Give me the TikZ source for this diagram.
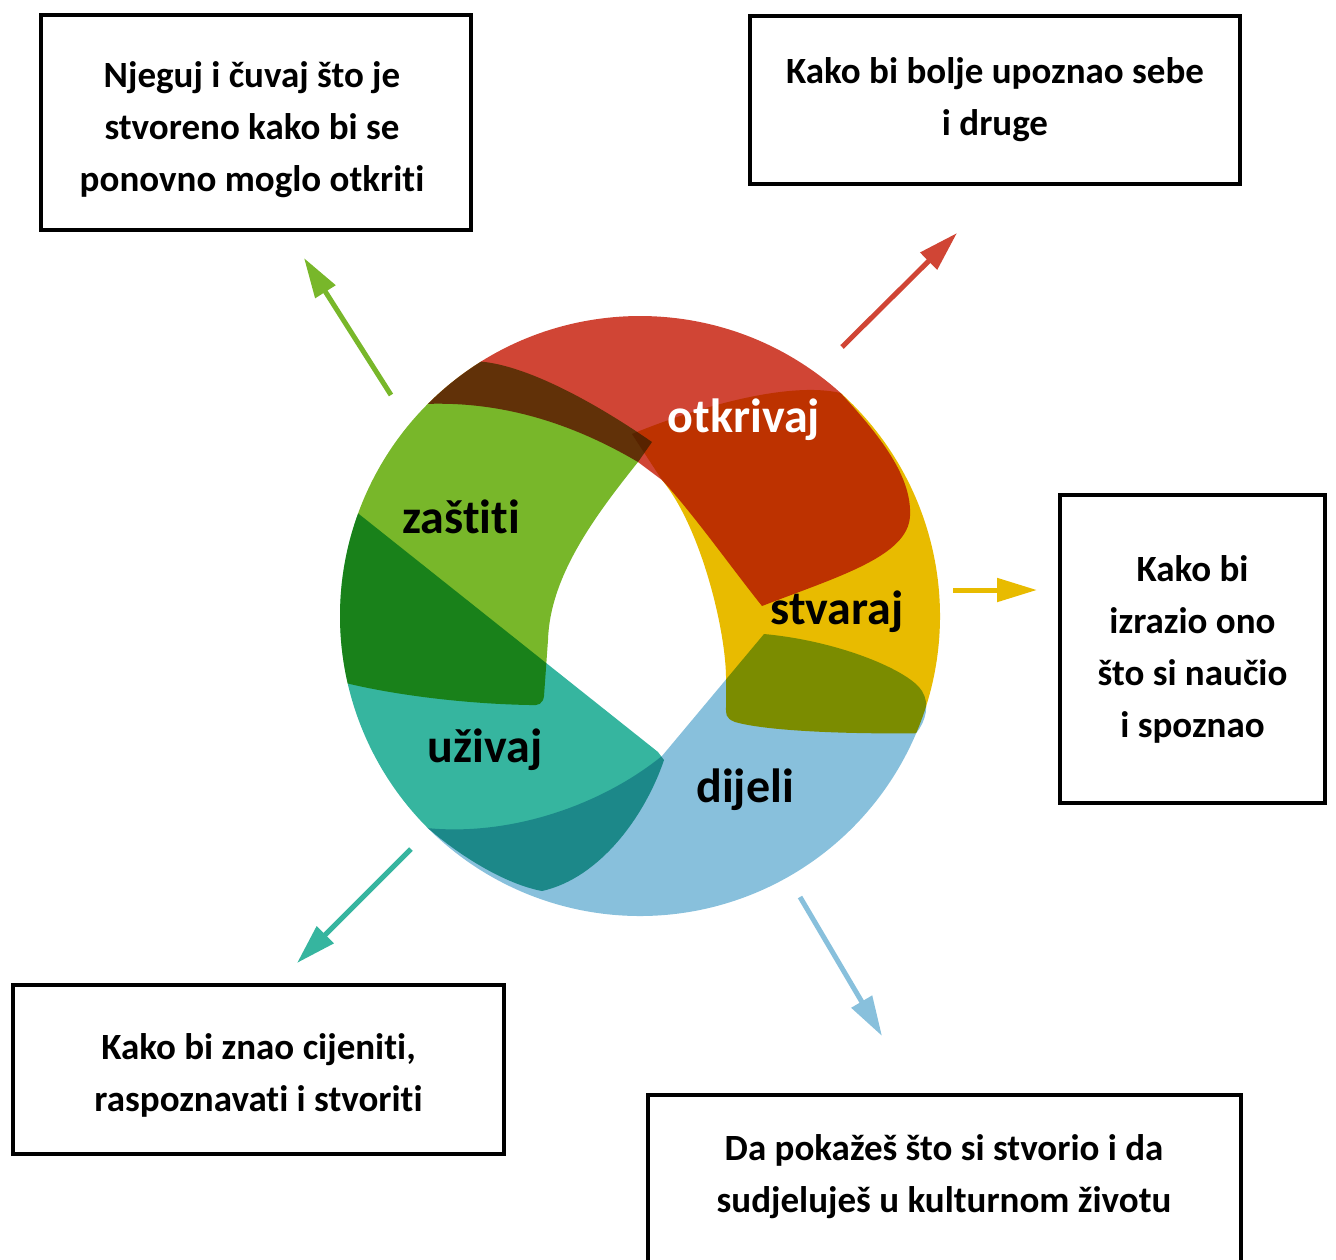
\documentclass[tikz,border=0pt]{standalone}
\usepackage{fontspec}
\setmainfont{Carlito}[Ligatures=NoCommon]
\usepackage{tikz}
\usetikzlibrary{arrows.meta}
\definecolor{otkred}{RGB}{208,69,53}
\definecolor{zasgreen}{RGB}{120,183,42}
\definecolor{uzteal}{RGB}{54,181,159}
\definecolor{dijblue}{RGB}{136,192,220}
\definecolor{stvyellow}{RGB}{232,187,0}
\tikzset{
   goal box/.style={draw, line width=2pt, inner sep=0pt},
   goal text/.style={inner sep=0pt, align=center,
      font=\bfseries\fontsize{18.5}{26}\selectfont},
   band/.style={fill=#1, blend mode=multiply},
   band label/.style={inner sep=0pt, font=\bfseries\fontsize{24}{24}\selectfont},
   leaf arrow/.style={draw=#1, line width=2.5pt, -{Triangle[length=20pt,width=11.5pt]}}
}
% the five bands, relative to the centre of the ring (y points down)
\newcommand{\redband}{(225:300) arc[start angle=225,end angle=312,radius=300]
   .. controls (240,-180) and (272,-140) .. (270,-100)
   .. controls (268,-60) and (200,-40) .. (122,-10)
   .. controls (90,-50) and (55,-100) .. (22,-136) -- (-2,-154)
   .. controls (-80,-200) and (-150,-214) .. cycle}
\newcommand{\greenband}{(167:300) arc[start angle=167,end angle=238,radius=300]
   .. controls (-110,-250) and (-40,-210) .. (12,-174) -- (-2,-154)
   .. controls (-45,-100) and (-90,-40) .. (-92,24) -- (-96,80)
   .. controls (-97,88) and (-102,90) .. (-110,89)
   .. controls (-170,88) and (-240,80) .. cycle}
\newcommand{\tealband}{(135:300) arc[start angle=135,end angle=200,radius=300]
   -- (18,136) -- (24,144)
   .. controls (5,200) and (-40,262) .. (-98,275)
   .. controls (-135,268) and (-180,240) .. cycle}
\newcommand{\blueband}{(23:300) arc[start angle=23,end angle=135,radius=300]
   .. controls (-130,220) and (-40,190) .. (22,140) -- (124,18)
   .. controls (200,25) and (270,55) .. (282,75)
   .. controls (290,88) and (286,105) .. cycle}
\newcommand{\yellowband}{(312:300) arc[start angle=312,end angle=383,radius=300]
   .. controls (220,118) and (130,116) .. (95,106)
   .. controls (85,102) and (86,98) .. (86,90) -- (86,60)
   .. controls (85,10) and (60,-90) .. (22,-136) -- (-8,-182)
   .. controls (60,-210) and (150,-235) .. cycle}

\begin{document}
\begin{tikzpicture}[x=0.5pt, y=-0.5pt]
  \useasboundingbox (0,0) rectangle (1336,1259);
  \begin{scope}[shift={(640,616)}]
    \fill[band=otkred] \redband;
    \fill[band=zasgreen] \greenband;
    \fill[band=uzteal] \tealband;
    \fill[band=dijblue] \blueband;
    \fill[band=stvyellow] \yellowband;
    \node[band label, white] (discover) at (104,-196) {otkrivaj};
    \node[band label] (protect) at (-179,-99) {zaštiti};
    \node[band label] (create) at (197,-4) {stvaraj};
    \node[band label] (enjoy) at (-155,134) {uživaj};
    \node[band label] (share) at (105,174) {dijeli};
  \end{scope}
  \node[goal box, minimum width=215pt, minimum height=107.5pt] (keep) at (256,122.5) {};
  \node[goal text, xshift=-2pt, yshift=-3.5pt] (keep text) at (keep)
    {Njeguj i čuvaj što je\\ stvoreno kako bi se\\ ponovno moglo otkriti};
  \node[goal box, minimum width=245pt, minimum height=84pt] (know) at (995,100) {};
  \node[goal text] (know text) at (know)
    {Kako bi bolje upoznao sebe\\ i druge};
  \node[goal box, minimum width=132.5pt, minimum height=154pt] (express) at (1192.5,649) {};
  \node[goal text] (express text) at (express)
    {Kako bi\\ izrazio ono\\ što si naučio\\ i spoznao};
  \node[goal box, minimum width=245.5pt, minimum height=84.5pt] (value) at (258.5,1069.5) {};
  \node[goal text, yshift=-2.75pt] (value text) at (value)
    {Kako bi znao cijeniti,\\ raspoznavati i stvoriti};
  \node[goal box, minimum width=296.5pt, minimum height=130pt, anchor=north] (take part) at (944.5,1093) {};
  \node[goal text] (take part text) at (944,1177)
    {Da pokažeš što si stvorio i da\\ sudjeluješ u kulturnom životu};
  \coordinate (protect tail) at (391,395);
  \coordinate (protect tip) at (304,258);
  \coordinate (discover tail) at (842,347);
  \coordinate (discover tip) at (957,233);
  \coordinate (create tail) at (953,590);
  \coordinate (create tip) at (1037,590);
  \coordinate (enjoy tail) at (411,849);
  \coordinate (enjoy tip) at (297,963);
  \coordinate (share tail) at (800,897);
  \coordinate (share tip) at (882,1036);
  \draw[leaf arrow=zasgreen] (protect tail) -- (protect tip);
  \draw[leaf arrow=otkred] (discover tail) -- (discover tip);
  \draw[leaf arrow=stvyellow] (create tail) -- (create tip);
  \draw[leaf arrow=uzteal] (enjoy tail) -- (enjoy tip);
  \draw[leaf arrow=dijblue] (share tail) -- (share tip);
\end{tikzpicture}
\end{document}
